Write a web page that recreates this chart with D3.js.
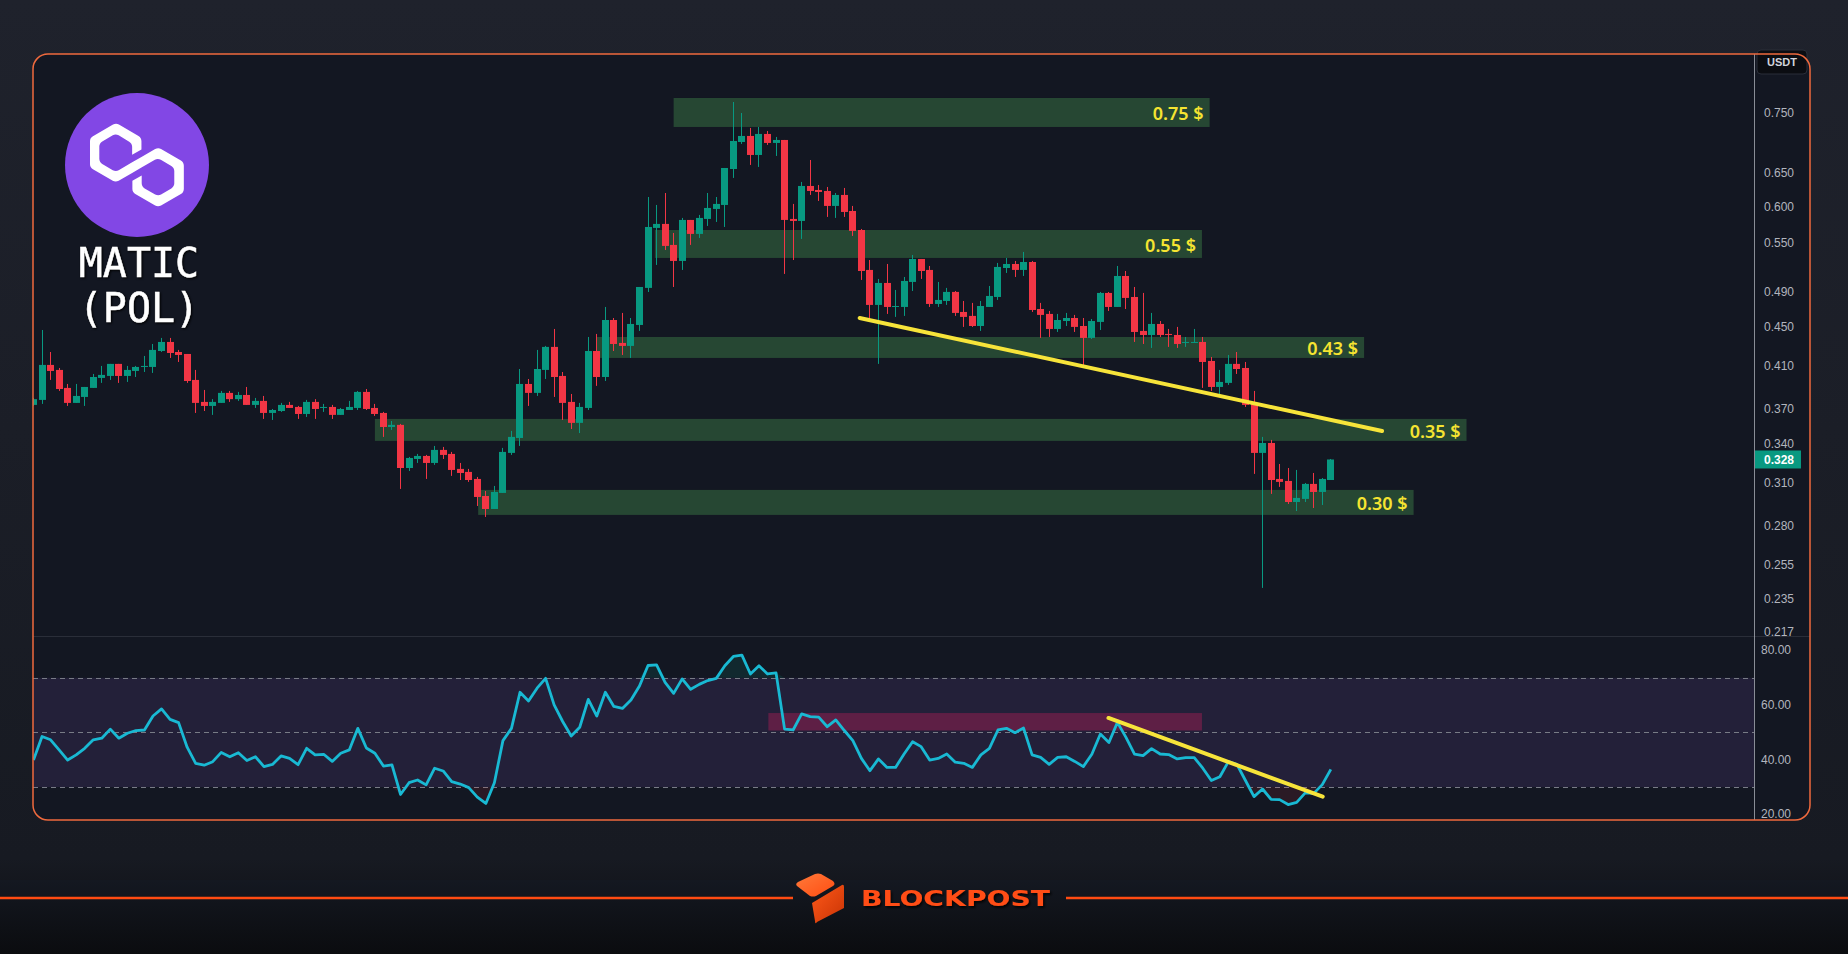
<!DOCTYPE html>
<html>
<head>
<meta charset="utf-8">
<title>MATIC (POL) / USDT</title>
<script src="https://cdn.jsdelivr.net/npm/d3@7"></script>
<style>
  html, body { margin: 0; padding: 0; background: #1d2029; overflow: hidden; }
  svg { display: block; }
</style>
</head>
<body>
<svg id="chart"></svg>
<script>
// daily candles
const open = [0.3737,0.3782,0.4112,0.4063,0.3892,0.3755,0.3809,0.3892,0.3986,0.4005,
  0.4122,0.4005,0.4053,0.4092,0.4092,0.4251,0.4344,0.4241,0.4221,0.3967,
  0.3764,0.3728,0.3755,0.3846,0.3789,0.3827,0.3737,0.3773,0.3666,0.3683,
  0.3737,0.3719,0.3657,0.3764,0.3710,0.3719,0.3649,0.3692,0.3710,0.3855,
  0.3710,0.3666,0.3545,0.3563,0.3214,0.3284,0.3308,0.3253,0.3356,0.3324,
  0.3207,0.3184,0.3131,0.3006,0.2914,0.3028,0.3332,0.3453,0.3929,0.3846,
  0.4063,0.4293,0.4005,0.3764,0.3580,0.3710,0.4251,0.3995,0.4578,0.4334,
  0.4303,0.4524,0.4943,0.5705,0.5760,0.5478,0.5272,0.5815,0.5624,0.5829,
  0.5970,0.6027,0.6568,0.7006,0.7108,0.6792,0.7142,0.6990,0.7040,0.5829,
  0.5801,0.6307,0.6247,0.6232,0.6013,0.6173,0.5941,0.5677,0.5160,0.4746,
  0.5002,0.4723,0.4723,0.5014,0.5297,0.5160,0.4757,0.4791,0.4896,0.4667,
  0.4623,0.4513,0.4723,0.4837,0.5184,0.5234,0.5160,0.5259,0.4700,0.4645,
  0.4481,0.4567,0.4600,0.4513,0.4386,0.4557,0.4884,0.4723,0.5086,0.4837,
  0.4460,0.4417,0.4535,0.4428,0.4417,0.4334,0.4334,0.4344,0.4151,0.3901,
  0.3939,0.4122,0.4082,0.3746,0.3332,0.3412,0.3131,0.3116,0.2963,0.2985,
  0.3094,0.3035,0.3123];
const high = [0.3800,0.4470,0.4241,0.4082,0.3929,0.3929,0.3901,0.4024,0.4102,0.4122,
  0.4122,0.4102,0.4102,0.4201,0.4323,0.4386,0.4386,0.4262,0.4221,0.4063,
  0.3873,0.3789,0.3864,0.3864,0.3855,0.3901,0.3800,0.3818,0.3701,0.3755,
  0.3764,0.3728,0.3782,0.3789,0.3746,0.3737,0.3710,0.3773,0.3864,0.3882,
  0.3746,0.3675,0.3596,0.3571,0.3300,0.3324,0.3316,0.3388,0.3380,0.3340,
  0.3253,0.3207,0.3146,0.3042,0.3079,0.3372,0.3512,0.4072,0.3976,0.4262,
  0.4303,0.4481,0.4043,0.3836,0.3755,0.4396,0.4428,0.4723,0.4600,0.4656,
  0.4600,0.4954,0.6143,0.6027,0.6202,0.5637,0.5843,0.5815,0.5885,0.6202,
  0.6143,0.6584,0.7709,0.7509,0.7245,0.7262,0.7193,0.7091,0.7040,0.6042,
  0.6368,0.6711,0.6322,0.6292,0.6202,0.6277,0.6013,0.5691,0.5284,0.5050,
  0.5234,0.4919,0.5074,0.5348,0.5297,0.5209,0.5014,0.4943,0.4907,0.4791,
  0.4769,0.4791,0.4966,0.5247,0.5310,0.5272,0.5387,0.5272,0.4769,0.4678,
  0.4645,0.4656,0.4634,0.4600,0.4589,0.4895,0.4895,0.5209,0.5147,0.4954,
  0.4884,0.4656,0.4567,0.4481,0.4503,0.4396,0.4481,0.4396,0.4191,0.4063,
  0.4211,0.4241,0.4141,0.3864,0.3462,0.3437,0.3245,0.3214,0.3199,0.3101,
  0.3176,0.3138,0.3284];
const low = [0.3730,0.3746,0.3967,0.3864,0.3728,0.3755,0.3728,0.3892,0.3939,0.3967,
  0.3939,0.3948,0.3995,0.4043,0.4034,0.4241,0.4181,0.4141,0.3939,0.3666,
  0.3683,0.3649,0.3755,0.3764,0.3773,0.3737,0.3710,0.3614,0.3605,0.3675,
  0.3710,0.3614,0.3631,0.3614,0.3675,0.3614,0.3649,0.3692,0.3692,0.3692,
  0.3640,0.3462,0.3520,0.3057,0.3191,0.3253,0.3131,0.3238,0.3284,0.3154,
  0.3123,0.3109,0.2935,0.2859,0.2914,0.3028,0.3316,0.3388,0.3728,0.3818,
  0.3976,0.3809,0.3605,0.3528,0.3494,0.3692,0.3911,0.3957,0.4251,0.4211,
  0.4181,0.4460,0.4895,0.5222,0.5412,0.4954,0.5160,0.5478,0.5570,0.5732,
  0.5787,0.5718,0.6429,0.6973,0.6632,0.6600,0.6957,0.6776,0.5111,0.5284,
  0.5557,0.6173,0.6085,0.5857,0.5843,0.5857,0.5597,0.5038,0.4578,0.4122,
  0.4645,0.4612,0.4623,0.4907,0.5050,0.4723,0.4723,0.4746,0.4623,0.4503,
  0.4503,0.4460,0.4723,0.4803,0.5123,0.5074,0.5086,0.4667,0.4386,0.4396,
  0.4449,0.4513,0.4449,0.4102,0.4375,0.4470,0.4678,0.4723,0.4700,0.4344,
  0.4323,0.4282,0.4396,0.4293,0.4282,0.4293,0.4334,0.3892,0.3864,0.3827,
  0.3920,0.4024,0.3719,0.3169,0.2413,0.3021,0.3072,0.2949,0.2900,0.2963,
  0.2921,0.2942,0.3123];
const close = [0.3789,0.4112,0.4053,0.3882,0.3755,0.3818,0.3901,0.3995,0.4015,0.4122,
  0.4005,0.4063,0.4092,0.4102,0.4262,0.4344,0.4231,0.4211,0.3957,0.3755,
  0.3728,0.3764,0.3846,0.3789,0.3827,0.3737,0.3773,0.3666,0.3692,0.3737,
  0.3710,0.3657,0.3764,0.3701,0.3719,0.3649,0.3701,0.3719,0.3855,0.3701,
  0.3657,0.3545,0.3563,0.3214,0.3292,0.3308,0.3253,0.3356,0.3316,0.3199,
  0.3176,0.3123,0.2999,0.2914,0.3035,0.3340,0.3462,0.3929,0.3846,0.4072,
  0.4293,0.3995,0.3755,0.3580,0.3719,0.4251,0.3995,0.4578,0.4323,0.4303,
  0.4535,0.4954,0.5718,0.5760,0.5465,0.5272,0.5815,0.5624,0.5843,0.5984,
  0.6042,0.6584,0.7023,0.7108,0.6792,0.7142,0.6990,0.7040,0.5815,0.5801,
  0.6307,0.6232,0.6217,0.6013,0.6173,0.5927,0.5664,0.5147,0.4746,0.5002,
  0.4723,0.4734,0.5026,0.5297,0.5147,0.4757,0.4803,0.4896,0.4656,0.4612,
  0.4513,0.4734,0.4849,0.5197,0.5234,0.5160,0.5259,0.4689,0.4634,0.4481,
  0.4578,0.4600,0.4503,0.4386,0.4567,0.4884,0.4723,0.5086,0.4826,0.4449,
  0.4417,0.4535,0.4417,0.4417,0.4323,0.4344,0.4344,0.4141,0.3901,0.3948,
  0.4122,0.4072,0.3737,0.3332,0.3412,0.3123,0.3109,0.2963,0.2992,0.3094,
  0.3035,0.3131,0.3280];

const rsi = [39.9,48.5,47.3,43.6,39.9,41.8,44.2,47.3,47.9,51.2,
  47.9,49.7,50.7,50.9,56.0,58.6,54.8,53.6,44.6,38.7,
  38.0,39.3,42.7,41.1,42.6,39.7,41.1,37.5,38.3,41.4,
  40.5,38.2,44.2,41.8,42.0,39.4,42.4,43.6,51.5,44.3,
  42.4,37.7,38.1,27.3,31.6,32.6,30.8,36.9,35.9,32.0,
  31.1,29.8,26.3,24.0,31.6,47.0,51.5,64.7,61.5,66.2,
  69.8,60.1,54.0,48.7,51.9,62.1,56.0,64.7,59.5,58.8,
  61.9,67.0,74.5,74.7,68.3,64.3,69.6,65.8,67.6,69.0,
  69.8,74.4,77.8,78.3,71.4,74.4,71.4,71.8,51.2,50.9,
  56.8,55.8,55.6,52.1,54.6,50.7,47.0,40.5,36.0,40.3,
  37.2,37.2,42.1,46.6,44.8,39.9,40.5,42.1,39.1,38.7,
  37.2,41.8,44.2,50.9,51.5,49.9,51.6,41.8,40.9,38.3,
  40.9,41.1,39.4,37.5,42.0,49.4,46.3,53.7,48.2,42.1,
  41.5,44.1,42.1,41.9,40.3,40.8,40.8,36.9,32.4,33.8,
  39.3,38.3,32.4,26.5,29.3,25.5,25.4,23.6,24.4,27.9,
  27.7,30.9,36.5];

const priceTicks = [0.75, 0.65, 0.6, 0.55, 0.49, 0.45, 0.41, 0.37, 0.34, 0.31, 0.28, 0.255, 0.235, 0.217];
const rsiTicks = [80, 60, 40, 20];
const rsiLevels = [70, 50, 30];
const lastPrice = 0.328;

// support / resistance zones (price band, from/to candle index)
const zoneLabels = ["0.75 $", "0.55 $", "0.43 $", "0.35 $", "0.30 $"];
const zoneTop = [0.7783, 0.5677, 0.4396, 0.3614, 0.3050];
const zoneBottom = [0.7262, 0.5310, 0.4181, 0.3429, 0.2873];
const zoneStart = [75.0, 72.8, 66.0, 40.0, 52.1];
const zoneEnd = [137.8, 136.9, 155.9, 167.9, 161.7];

const priceTrend = [[96.8, 0.4600], [158.0, 0.3511]];
const rsiTrend = [[125.95, 55.3], [151.05, 26.5]];
const rsiBox = [[86.1, 57.1], [136.9, 50.7]];

const width = 1848, height = 954;
const panel = { left: 33, top: 54, right: 1810, bottom: 820 };
const axisX = 1754;
const split = 636;
const up = "#089981", down = "#f23645";

const svg = d3.select("#chart").attr("width", width).attr("height", height);
const defs = svg.append("defs");

const x = d3.scaleLinear().domain([0, 200]).range([33.5, 1740.5]);
const y = d3.scaleLog().domain([0.2151, 0.8646]).range([split, panel.top]);
const yR = d3.scaleLinear().domain([17.95, 85.3]).range([panel.bottom, split]);

// background
const bg = defs.append("linearGradient").attr("id", "bg").attr("x1", 0).attr("y1", 0).attr("x2", 0).attr("y2", 1);
bg.append("stop").attr("offset", 0).attr("stop-color", "#1f222c");
bg.append("stop").attr("offset", 0.9).attr("stop-color", "#171a22");
bg.append("stop").attr("offset", 1).attr("stop-color", "#0c0d10");
svg.append("rect").attr("width", width).attr("height", height).attr("fill", "url(#bg)");

const foot = defs.append("linearGradient").attr("id", "foot").attr("x1", 0).attr("y1", 0).attr("x2", 0).attr("y2", 1);
foot.append("stop").attr("offset", 0).attr("stop-color", "#141821");
foot.append("stop").attr("offset", 1).attr("stop-color", "#0b0c0f");
svg.append("rect").attr("y", 880).attr("width", width).attr("height", height - 880).attr("fill", "url(#foot)");

svg.append("rect")
  .attr("x", panel.left).attr("y", panel.top)
  .attr("width", panel.right - panel.left).attr("height", panel.bottom - panel.top)
  .attr("rx", 15).attr("fill", "#131722");

defs.append("clipPath").attr("id", "clipPrice").append("rect")
  .attr("x", panel.left).attr("y", panel.top).attr("width", axisX - panel.left).attr("height", split - panel.top);
defs.append("clipPath").attr("id", "clipRsi").append("path")
  .attr("d", `M${panel.left},${split}H${axisX}V${panel.bottom}H${panel.left + 15}Q${panel.left},${panel.bottom} ${panel.left},${panel.bottom - 15}Z`);

// price pane
const priceG = svg.append("g").attr("clip-path", "url(#clipPrice)");

const zones = zoneLabels.map((label, k) => ({ label, top: zoneTop[k], bottom: zoneBottom[k], from: zoneStart[k], to: zoneEnd[k] }));
priceG.selectAll("rect.zone").data(zones).join("rect")
  .attr("class", "zone")
  .attr("x", d => x(d.from)).attr("width", d => x(d.to) - x(d.from))
  .attr("y", d => y(d.top)).attr("height", d => y(d.bottom) - y(d.top))
  .attr("fill", "#264733");

const candles = d3.range(close.length).map(i => ({ i, o: open[i], h: high[i], l: low[i], c: close[i] }));
const bodyLeft = d => Math.round(x(d.i) - 3.5);

priceG.selectAll("line.wick").data(candles).join("line")
  .attr("class", "wick")
  .attr("x1", d => bodyLeft(d) + 3.5).attr("x2", d => bodyLeft(d) + 3.5)
  .attr("y1", d => y(d.h)).attr("y2", d => y(d.l))
  .attr("stroke", d => d.c >= d.o ? up : down)
  .attr("stroke-width", 1);

priceG.selectAll("rect.body").data(candles).join("rect")
  .attr("class", "body")
  .attr("x", bodyLeft).attr("width", 7)
  .attr("y", d => y(Math.max(d.o, d.c)))
  .attr("height", d => Math.max(1, Math.abs(y(d.o) - y(d.c))))
  .attr("fill", d => d.c >= d.o ? up : down);

priceG.append("line")
  .attr("x1", x(priceTrend[0][0])).attr("y1", y(priceTrend[0][1]))
  .attr("x2", x(priceTrend[1][0])).attr("y2", y(priceTrend[1][1]))
  .attr("stroke", "#f7e43a").attr("stroke-width", 4).attr("stroke-linecap", "round");

priceG.selectAll("text.zone").data(zones).join("text")
  .attr("class", "zone")
  .attr("x", d => x(d.to) - 6)
  .attr("y", d => (y(d.top) + y(d.bottom)) / 2 + 1)
  .attr("text-anchor", "end").attr("dominant-baseline", "central")
  .attr("font-family", "'Noto Sans', sans-serif").attr("font-size", 18).attr("font-weight", 600)
  .attr("fill", "#f5e431")
  .text(d => d.label);

// RSI pane
const rsiG = svg.append("g").attr("clip-path", "url(#clipRsi)");

rsiG.append("rect")
  .attr("x", panel.left).attr("width", axisX - panel.left)
  .attr("y", yR(70)).attr("height", yR(30) - yR(70))
  .attr("fill", "rgba(126,87,194,0.15)");

rsiG.append("rect")
  .attr("x", x(rsiBox[0][0])).attr("width", x(rsiBox[1][0]) - x(rsiBox[0][0]))
  .attr("y", yR(rsiBox[0][1])).attr("height", yR(rsiBox[1][1]) - yR(rsiBox[0][1]))
  .attr("fill", "rgba(233,30,99,0.3)");

rsiG.selectAll("line.level").data(rsiLevels).join("line")
  .attr("class", "level")
  .attr("x1", panel.left).attr("x2", axisX)
  .attr("y1", d => Math.round(yR(d)) + 0.5).attr("y2", d => Math.round(yR(d)) + 0.5)
  .attr("stroke", "#787b86").attr("stroke-width", 1).attr("stroke-dasharray", "5,4");

rsiG.append("path").datum(rsi)
  .attr("d", d3.area().x((d, i) => x(i)).y0(yR(70)).y1(d => yR(Math.max(d, 70))))
  .attr("fill", "rgba(8,153,129,0.14)");
rsiG.append("path").datum(rsi)
  .attr("d", d3.area().x((d, i) => x(i)).y0(yR(30)).y1(d => yR(Math.min(d, 30))))
  .attr("fill", "rgba(242,54,69,0.1)");

rsiG.append("path").datum(rsi)
  .attr("d", d3.line().x((d, i) => x(i)).y(d => yR(d)))
  .attr("fill", "none").attr("stroke", "#19b9d3").attr("stroke-width", 2.8)
  .attr("stroke-linejoin", "round");

rsiG.append("line")
  .attr("x1", x(rsiTrend[0][0])).attr("y1", yR(rsiTrend[0][1]))
  .attr("x2", x(rsiTrend[1][0])).attr("y2", yR(rsiTrend[1][1]))
  .attr("stroke", "#f7e43a").attr("stroke-width", 4).attr("stroke-linecap", "round");

svg.append("line")
  .attr("x1", panel.left).attr("x2", panel.right)
  .attr("y1", split + 0.5).attr("y2", split + 0.5)
  .attr("stroke", "#2a2e39");

// right scale
svg.append("line")
  .attr("x1", axisX + 0.5).attr("x2", axisX + 0.5)
  .attr("y1", panel.top).attr("y2", panel.bottom)
  .attr("stroke", "#b2b5be").attr("stroke-opacity", 0.75);

const label = "'Liberation Sans', Arial, sans-serif";
svg.selectAll("text.ptick").data(priceTicks).join("text")
  .attr("class", "ptick")
  .attr("x", axisX + 10).attr("y", d => y(d))
  .attr("dominant-baseline", "central")
  .attr("font-family", label).attr("font-size", 12).attr("fill", "#b2b5be")
  .text(d3.format(".3f"));

svg.selectAll("text.rtick").data(rsiTicks).join("text")
  .attr("class", "rtick")
  .attr("x", axisX + 7).attr("y", d => yR(d))
  .attr("dominant-baseline", "central")
  .attr("font-family", label).attr("font-size", 12).attr("fill", "#b2b5be")
  .text(d3.format(".2f"));

svg.append("rect")
  .attr("x", axisX + 1).attr("y", y(lastPrice) - 9)
  .attr("width", 46).attr("height", 18).attr("fill", up);
svg.append("text")
  .attr("x", axisX + 10).attr("y", y(lastPrice) + 0.5)
  .attr("dominant-baseline", "central")
  .attr("font-family", label).attr("font-size", 12).attr("font-weight", 700).attr("fill", "#ffffff")
  .text(d3.format(".3f")(lastPrice));

svg.append("rect")
  .attr("x", axisX + 3).attr("y", 50).attr("width", 50).attr("height", 24)
  .attr("rx", 4).attr("fill", "#0b0d12").attr("stroke", "#2a2e39");
svg.append("text")
  .attr("x", axisX + 28).attr("y", 62)
  .attr("text-anchor", "middle").attr("dominant-baseline", "central")
  .attr("font-family", label).attr("font-size", 11).attr("font-weight", 700).attr("fill", "#d1d4dc")
  .text("USDT");

svg.append("rect")
  .attr("x", panel.left).attr("y", panel.top)
  .attr("width", panel.right - panel.left).attr("height", panel.bottom - panel.top)
  .attr("rx", 15).attr("fill", "none").attr("stroke", "#ef6a3e").attr("stroke-width", 1.5);

// coin badge
const badge = svg.append("g");
badge.append("circle").attr("cx", 137).attr("cy", 165).attr("r", 72).attr("fill", "#8247e5");
badge.append("path")
  .attr("transform", "translate(90,124) scale(2.45)")
  .attr("fill", "#ffffff")
  .attr("d", "M29,10.2c-0.7-0.4-1.6-0.4-2.4,0L21,13.5l-3.8,2.1l-5.5,3.3c-0.7,0.4-1.6,0.4-2.4,0L5,16.3c-0.7-0.4-1.2-1.2-1.2-2.1v-5c0-0.8,0.4-1.6,1.2-2.1l4.3-2.5c0.7-0.4,1.6-0.4,2.4,0L16,7.2c0.7,0.4,1.2,1.2,1.2,2.1v3.3l3.8-2.2V7c0-0.8-0.4-1.6-1.2-2.1l-8-4.7c-0.7-0.4-1.6-0.4-2.4,0L1.2,5C0.4,5.4,0,6.2,0,7v9.4c0,0.8,0.4,1.6,1.2,2.1l8.1,4.7c0.7,0.4,1.6,0.4,2.4,0l5.5-3.2l3.8-2.2l5.5-3.2c0.7-0.4,1.6-0.4,2.4,0l4.3,2.5c0.7,0.4,1.2,1.2,1.2,2.1v5c0,0.8-0.4,1.6-1.2,2.1L29,28.8c-0.7,0.4-1.6,0.4-2.4,0l-4.3-2.5c-0.7-0.4-1.2-1.2-1.2-2.1V21l-3.8,2.2v3.3c0,0.8,0.4,1.6,1.2,2.1l8.1,4.7c0.7,0.4,1.6,0.4,2.4,0l8.1-4.7c0.7-0.4,1.2-1.2,1.2-2.1V17c0-0.8-0.4-1.6-1.2-2.1L29,10.2z");

badge.selectAll("text").data(["MATIC", "(POL)"]).join("text")
  .attr("x", 139).attr("y", (d, i) => 277 + i * 45)
  .attr("text-anchor", "middle")
  .attr("font-family", "'DejaVu Sans Mono', monospace").attr("font-size", 40)
  .attr("fill", "#ffffff").attr("stroke", "#ffffff").attr("stroke-width", 0.5)
  .attr("paint-order", "stroke")
  .style("filter", "drop-shadow(1px 1px 1px #000)")
  .text(d => d);

// footer brand
svg.append("line").attr("x1", 0).attr("x2", 793).attr("y1", 898).attr("y2", 898)
  .attr("stroke", "#ff4b12").attr("stroke-width", 2.5);
svg.append("line").attr("x1", 1066).attr("x2", width).attr("y1", 898).attr("y2", 898)
  .attr("stroke", "#ff4b12").attr("stroke-width", 2.5);

const cubeTop = defs.append("linearGradient").attr("id", "cubeTop").attr("x1", 0).attr("y1", 0).attr("x2", 1).attr("y2", 1);
cubeTop.append("stop").attr("offset", 0).attr("stop-color", "#ff7a3a");
cubeTop.append("stop").attr("offset", 1).attr("stop-color", "#ff4d12");
const cubeSide = defs.append("linearGradient").attr("id", "cubeSide").attr("x1", 0).attr("y1", 0).attr("x2", 1).attr("y2", 1);
cubeSide.append("stop").attr("offset", 0).attr("stop-color", "#ff5a1a");
cubeSide.append("stop").attr("offset", 1).attr("stop-color", "#c93305");

svg.append("path").attr("d", "M797,886 Q795,884 798,882 L815,874 Q818,873 821,874 L833,881 Q836,884 833,886 L816,896 Q813,897 810,896 Z")
  .attr("fill", "url(#cubeTop)");
svg.append("path").attr("d", "M812,903 L842,885 Q844,884 844,887 L844,908 L817,922 Q815,925 815,921 Z")
  .attr("fill", "url(#cubeSide)");

const shadow = defs.append("filter").attr("id", "shadow").attr("x", "-10%").attr("y", "-30%").attr("width", "120%").attr("height", "160%");
shadow.append("feDropShadow").attr("dx", 1.5).attr("dy", 2).attr("stdDeviation", 1).attr("flood-color", "#000").attr("flood-opacity", 0.8);

svg.append("text")
  .attr("x", 861).attr("y", 906)
  .attr("font-family", "'DejaVu Sans', sans-serif").attr("font-size", 21).attr("font-weight", 700)
  .attr("textLength", 189).attr("lengthAdjust", "spacingAndGlyphs")
  .attr("fill", "#ff4d14").attr("filter", "url(#shadow)")
  .text("BLOCKPOST");
</script>
</body>
</html>
